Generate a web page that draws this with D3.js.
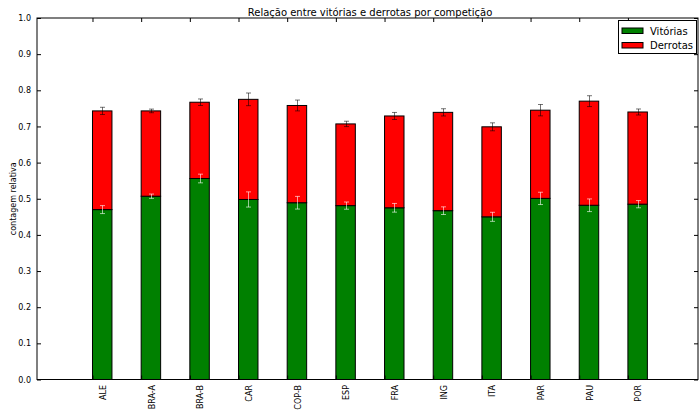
<!DOCTYPE html>
<html>
<head>
<meta charset="utf-8">
<script src="https://cdn.jsdelivr.net/npm/d3@7"></script>
<style>
  html, body { margin: 0; padding: 0; background: #fff; }
  svg { display: block; font-family: "DejaVu Sans", sans-serif; }
</style>
</head>
<body>
<svg id="chart" width="700" height="410"></svg>
<script>
// Competitions and relative win / loss counts (stacked), with standard errors
const categories = ["ALE", "BRA-A", "BRA-B", "CAR", "COP-B", "ESP", "FRA", "ING", "ITA", "PAR", "PAU", "POR"];
const wins      = [0.470, 0.507, 0.556, 0.498, 0.489, 0.481, 0.475, 0.467, 0.450, 0.501, 0.482, 0.485];
const losses    = [0.273, 0.236, 0.211, 0.277, 0.269, 0.226, 0.254, 0.272, 0.249, 0.244, 0.288, 0.255];
const winsErr   = [0.011, 0.006, 0.012, 0.021, 0.0175, 0.010, 0.012, 0.0106, 0.0125, 0.017, 0.0175, 0.010];
const lossesErr = [0.010, 0.005, 0.009, 0.0175, 0.015, 0.0074, 0.0097, 0.010, 0.011, 0.0157, 0.015, 0.0083];
const yTicks = [0.0, 0.1, 0.2, 0.3, 0.4, 0.5, 0.6, 0.7, 0.8, 0.9, 1.0];
const seriesNames = ["Vitórias", "Derrotas"];
const seriesColors = ["#008000", "#ff0000"];

const svg = d3.select("#chart");
const plotLeft = 37, plotRight = 698, plotTop = 18, plotBottom = 379.5;
const barWidth = 0.4;

const x = d3.scaleLinear().domain([-1.14, 12.44]).range([plotLeft, plotRight]);
const y = d3.scaleLinear().domain([0, 1]).range([plotBottom, plotTop]);

const idx = d3.range(categories.length);

// bars: wins at the bottom, losses stacked on top
const g = svg.append("g");
g.selectAll("rect.win").data(idx).enter().append("rect")
  .attr("class", "win")
  .attr("x", i => x(i))
  .attr("width", x(barWidth) - x(0))
  .attr("y", i => y(wins[i]))
  .attr("height", i => y(0) - y(wins[i]))
  .attr("fill", seriesColors[0])
  .attr("stroke", "#000").attr("stroke-width", 1);

g.selectAll("rect.loss").data(idx).enter().append("rect")
  .attr("class", "loss")
  .attr("x", i => x(i))
  .attr("width", x(barWidth) - x(0))
  .attr("y", i => y(wins[i] + losses[i]))
  .attr("height", i => y(wins[i]) - y(wins[i] + losses[i]))
  .attr("fill", seriesColors[1])
  .attr("stroke", "#000").attr("stroke-width", 1);

// error bars
function errorBars(cls, level, err, color, opacity) {
  const eg = g.selectAll("g." + cls).data(idx).enter().append("g")
    .attr("class", cls)
    .attr("stroke", color).attr("stroke-opacity", opacity).attr("stroke-width", 1);
  const cx = i => Math.round(x(i + barWidth / 2)) + 0.5;
  eg.append("line")
    .attr("x1", cx).attr("x2", cx)
    .attr("y1", i => y(level(i) - err[i])).attr("y2", i => y(level(i) + err[i]));
  [-1, 1].forEach(s => {
    eg.append("line")
      .attr("x1", i => cx(i) - 2.5).attr("x2", i => cx(i) + 2.5)
      .attr("y1", i => y(level(i) + s * err[i])).attr("y2", i => y(level(i) + s * err[i]));
  });
}
errorBars("errWin", i => wins[i], winsErr, "#ffffff", 0.6);
errorBars("errLoss", i => wins[i] + losses[i], lossesErr, "#000000", 0.55);

// frame
svg.append("rect")
  .attr("x", plotLeft).attr("y", plotTop)
  .attr("width", plotRight - plotLeft).attr("height", plotBottom - plotTop)
  .attr("fill", "none").attr("stroke", "#000").attr("stroke-width", 1);

// y axis (ticks pointing inward on both sides)
const yAxis = d3.axisLeft(y).tickValues(yTicks).tickFormat(d3.format(".1f")).tickSize(-4).tickPadding(6);
const ya = svg.append("g").attr("transform", `translate(${plotLeft},0)`).call(yAxis);
ya.select(".domain").remove();
ya.selectAll("text").attr("font-size", 8).attr("fill", "#000").attr("font-family", "DejaVu Sans");
const yAxisR = d3.axisRight(y).tickValues(yTicks).tickFormat("").tickSize(-4);
const yr = svg.append("g").attr("transform", `translate(${plotRight},0)`).call(yAxisR);
yr.select(".domain").remove();

// x ticks at bar left edges, labels centred on bars
const xAxisB = d3.axisBottom(x).tickValues(idx).tickFormat("").tickSize(-4);
const xb = svg.append("g").attr("transform", `translate(0,${plotBottom})`).call(xAxisB);
xb.select(".domain").remove();
const xAxisT = d3.axisTop(x).tickValues(idx).tickFormat("").tickSize(-4);
const xt = svg.append("g").attr("transform", `translate(0,${plotTop})`).call(xAxisT);
xt.select(".domain").remove();

svg.append("g").selectAll("text").data(idx).enter().append("text")
  .attr("transform", i => `translate(${x(i + barWidth / 2) + 3.8},${plotBottom + 5.5}) rotate(-90)`)
  .attr("text-anchor", "end")
  .attr("font-size", 8)
  .attr("fill", "#000")
  .text(i => categories[i]);

// axis label
svg.append("text")
  .attr("transform", `translate(16,${(plotTop + plotBottom) / 2}) rotate(-90)`)
  .attr("text-anchor", "middle")
  .attr("font-size", 8)
  .text("contagem relativa");

// title
svg.append("text")
  .attr("x", 370).attr("y", 15.5)
  .attr("text-anchor", "middle")
  .attr("font-size", 10)
  .text("Relação entre vitórias e derrotas por competição");

// legend
const lg = svg.append("g");
lg.append("rect")
  .attr("x", 618.5).attr("y", 20.5).attr("width", 78).attr("height", 33)
  .attr("fill", "#fff").attr("stroke", "#000").attr("stroke-width", 1);
seriesNames.forEach((name, k) => {
  lg.append("rect")
    .attr("x", 622).attr("y", 28 + k * 14.5).attr("width", 21).attr("height", 5.5)
    .attr("fill", seriesColors[k]).attr("stroke", "#000").attr("stroke-width", 1);
  lg.append("text")
    .attr("x", 650).attr("y", 34.5 + k * 14.5)
    .attr("font-size", 10)
    .text(name);
});
</script>
</body>
</html>
